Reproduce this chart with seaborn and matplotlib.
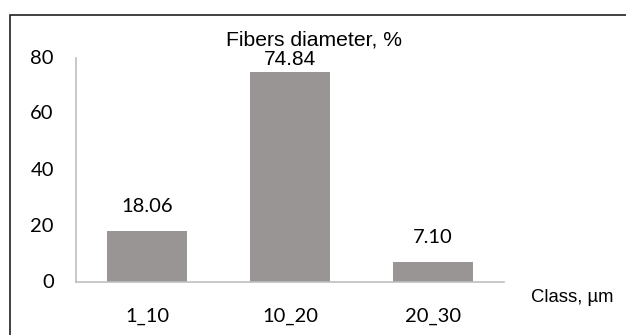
import matplotlib
matplotlib.use("Agg")
import matplotlib.pyplot as plt
import seaborn as sns
import pandas as pd
from matplotlib.patches import Rectangle

categories = ["1_10", "10_20", "20_30"]
values = [18.06, 74.84, 7.10]
value_labels = ["18.06", "74.84", "7.10"]
y_ticks = [0, 20, 40, 60, 80]

sns.set_theme(style="white")
plt.rcParams["font.family"] = ["Lato", "DejaVu Sans"]

df = pd.DataFrame({"Class": categories, "Value": values})

fig = plt.figure(figsize=(6.26, 3.35), dpi=100)
ax = fig.add_axes([76 / 626, 53 / 335, 428 / 626, 224 / 335])

sns.barplot(data=df, x="Class", y="Value", color="#989594", width=0.56,
            saturation=1, ax=ax, edgecolor="none")

ax.set_xlim(-0.5, 2.5)
ax.set_ylim(0, 80)
ax.set_yticks(y_ticks)
ax.set_yticklabels([str(t) for t in y_ticks])
ax.set_xlabel("")
ax.set_ylabel("")
ax.tick_params(axis="y", length=0, pad=16, labelsize=14.5, labelcolor="#000000")
ax.tick_params(axis="x", length=0, pad=18.5, labelsize=14.5, labelcolor="#000000")
for lbl in ax.get_yticklabels():
    lbl.set_va("center")
    lbl.set_y(lbl.get_position()[1])

for s in ["top", "right"]:
    ax.spines[s].set_visible(False)
for s in ["left", "bottom"]:
    ax.spines[s].set_color("#bfbfbf")
    ax.spines[s].set_linewidth(1.2)

offsets = [17.6, 9.4, 17.6]
fonts = [["Lato"], ["Liberation Sans"], ["Lato"]]
sizes = [14.5, 15, 14.5]
for i, (v, lab) in enumerate(zip(values, value_labels)):
    ax.annotate(lab, (i, v), xytext=(0, offsets[i]), textcoords="offset points",
                ha="center", va="center", fontsize=sizes[i], family=fonts[i],
                color="#000000")

fig.text(314 / 626, 1 - 40 / 335, "Fibers diameter, %", ha="center", va="center",
         fontsize=15.2, family=["Liberation Sans"], color="#000000")
fig.text(572 / 626, 1 - 298 / 335, "Class, µm", ha="center", va="center",
         fontsize=13.3, family=["Liberation Sans"], color="#000000")

fig.patches.append(Rectangle((10 / 626, -0.05), 1.1, 1.05 - 14.5 / 335,
                             transform=fig.transFigure, fill=False,
                             edgecolor="#202020", linewidth=1.2))

fig.savefig("out.png", dpi=100)
